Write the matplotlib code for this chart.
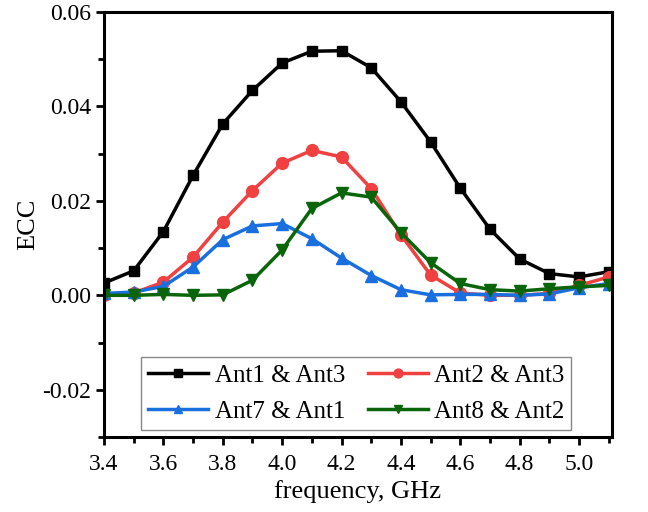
import matplotlib
matplotlib.use("Agg")
import matplotlib.pyplot as plt
from matplotlib.ticker import MultipleLocator, FormatStrFormatter

plt.rcParams['font.family'] = ['Liberation Serif', 'DejaVu Serif']

# frequency points (GHz)
freq = [3.4, 3.5, 3.6, 3.7, 3.8, 3.9, 4.0, 4.1, 4.2, 4.3, 4.4, 4.5, 4.6, 4.7, 4.8, 4.9, 5.0, 5.1]

# ECC values
ant1_ant3 = [0.0026, 0.0052, 0.0135, 0.0254, 0.0363, 0.0434, 0.0492, 0.0517, 0.0518,
             0.0482, 0.0410, 0.0325, 0.0227, 0.0140, 0.0077, 0.0046, 0.0039, 0.0050]
ant2_ant3 = [0.0000, 0.0005, 0.0028, 0.0081, 0.0155, 0.0222, 0.0280, 0.0307, 0.0293,
             0.0226, 0.0128, 0.0043, 0.0005, 0.0000, 0.0000, 0.0004, 0.0021, 0.0039]
ant7_ant1 = [0.0004, 0.0007, 0.0019, 0.0060, 0.0118, 0.0147, 0.0152, 0.0120, 0.0079,
             0.0042, 0.0012, 0.0001, 0.0002, 0.0002, 0.0000, 0.0003, 0.0016, 0.0025]
ant8_ant2 = [0.0000, 0.0000, 0.0002, 0.0000, 0.0001, 0.0032, 0.0096, 0.0184, 0.0217,
             0.0208, 0.0133, 0.0069, 0.0025, 0.0012, 0.0009, 0.0014, 0.0018, 0.0021]

fig = plt.figure(figsize=(6.48, 5.12), dpi=100)
ax = fig.add_axes([0.1605, 0.1465, 0.7835, 0.830])

lw = 2.5
l1, = ax.plot(freq, ant1_ant3, color='black', marker='s', ms=7.5, lw=lw, label='Ant1 & Ant3')
l2, = ax.plot(freq, ant2_ant3, color='#F04040', marker='o', ms=8.5, lw=lw, label='Ant2 & Ant3')
l3, = ax.plot(freq, ant7_ant1, color='#1A6FDF', marker='^', ms=8.5, lw=lw, label='Ant7 & Ant1')
l4, = ax.plot(freq, ant8_ant2, color='#0A650A', marker='v', ms=8.5, lw=lw, label='Ant8 & Ant2')

ax.set_xlim(3.4, 5.11)
ax.set_ylim(-0.03, 0.06)
ax.xaxis.set_major_locator(MultipleLocator(0.2))
ax.xaxis.set_minor_locator(MultipleLocator(0.1))
ax.yaxis.set_major_locator(MultipleLocator(0.02))
ax.yaxis.set_minor_locator(MultipleLocator(0.01))
ax.xaxis.set_major_formatter(FormatStrFormatter('%.1f'))
ax.yaxis.set_major_formatter(FormatStrFormatter('%.2f'))

for s in ax.spines.values():
    s.set_linewidth(2.2)
ax.tick_params(which='major', direction='out', length=6, width=2, labelsize=17)
ax.tick_params(axis='x', which='major', pad=6)
ax.tick_params(which='minor', direction='out', length=4, width=2)

ax.set_xlabel('frequency, GHz', fontsize=19, labelpad=4)
ax.set_ylabel('ECC', fontsize=19, labelpad=2)

# column-major fill -> row 1: Ant1/Ant2, row 2: Ant7/Ant8
handles = [l1, l3, l2, l4]
leg = ax.legend(handles=handles, labels=[h.get_label() for h in handles],
                loc='lower center', bbox_to_anchor=(0.497, 0.0), ncol=2, fontsize=18,
                numpoints=1, fancybox=False, framealpha=1, edgecolor='#888888',
                handlelength=2.4, columnspacing=0.9, borderpad=0.28, labelspacing=0.55,
                handletextpad=0.25, markerscale=0.75, borderaxespad=0.28)
leg.get_frame().set_linewidth(1.0)

fig.savefig('out.png', dpi=100)
